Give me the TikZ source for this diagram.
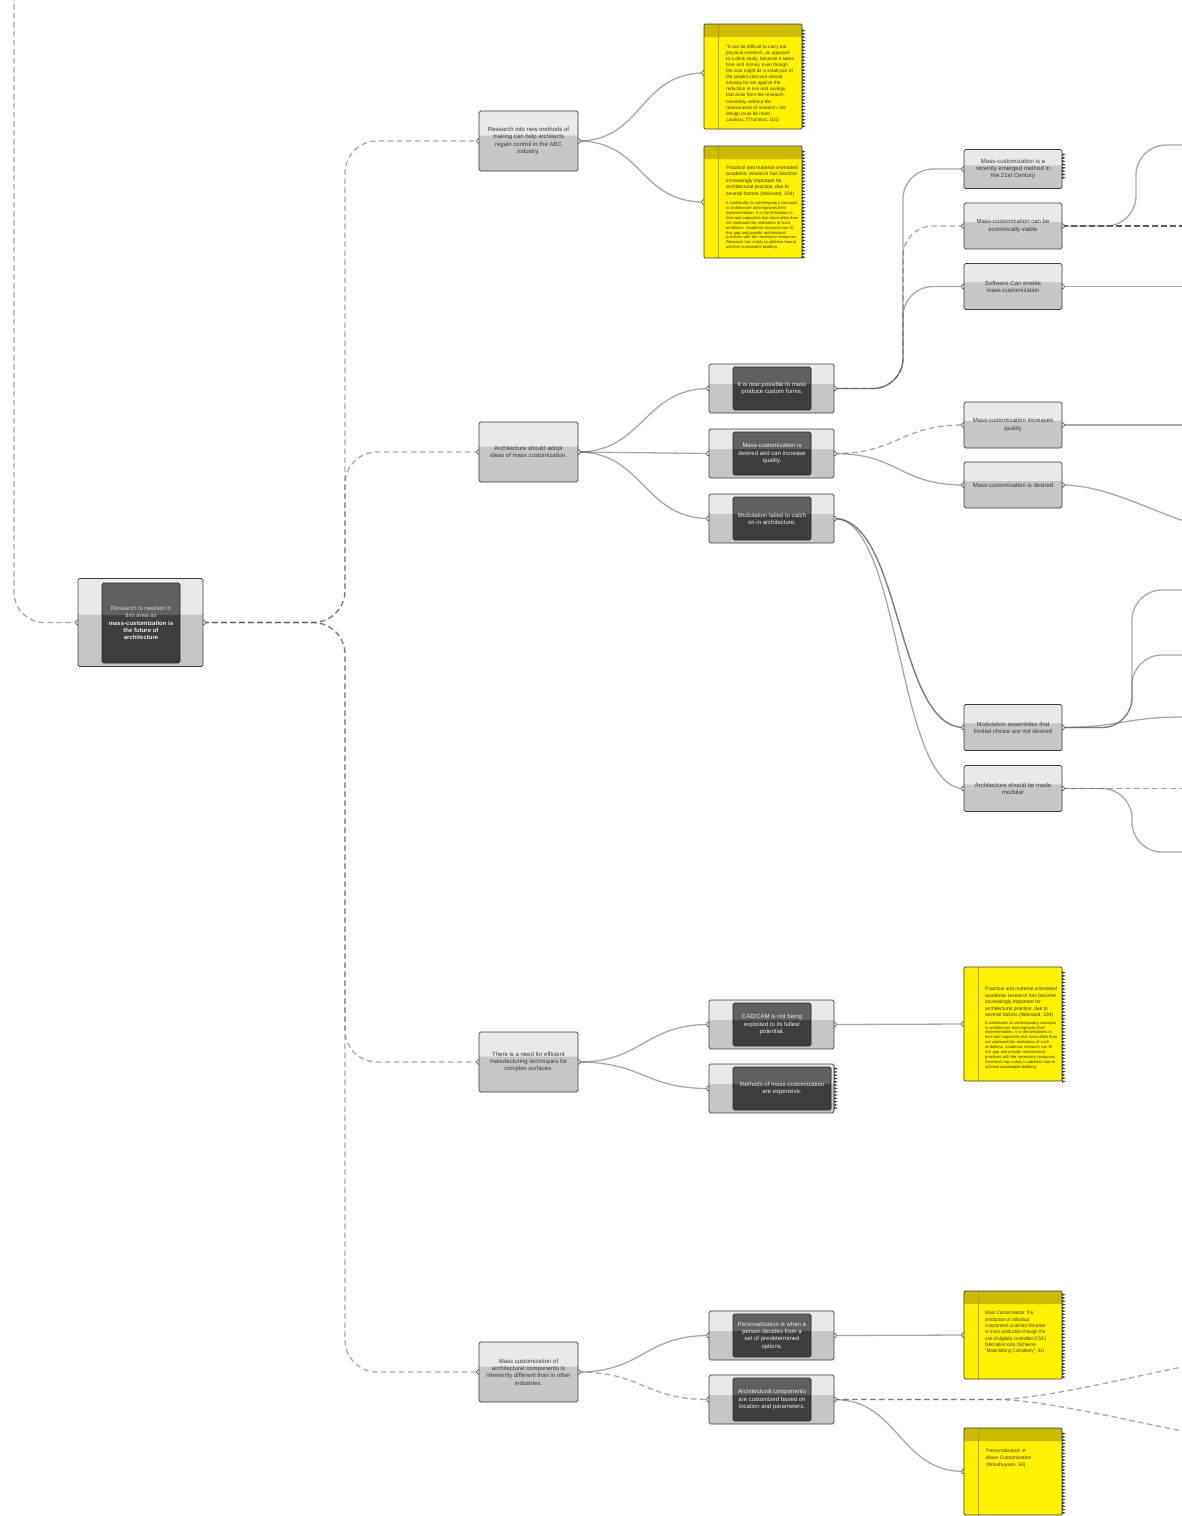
\documentclass[tikz,border=0pt]{standalone}
\usepackage{fontspec}
\setmainfont{Liberation Sans}
\newfontfamily\dejavu{DejaVu Sans}
\newfontfamily\narrowsans[FakeStretch=0.87]{Liberation Sans}
\usetikzlibrary{calc}
\pgfdeclarelayer{bg}
\pgfsetlayers{bg,main}

\definecolor{boxtop}{HTML}{E9E9E9}
\definecolor{boxbot}{HTML}{C6C6C6}
\definecolor{boxline}{HTML}{3C3C3C}
\definecolor{intop}{HTML}{606060}
\definecolor{inbot}{HTML}{3D3D3D}
\definecolor{inline}{HTML}{2A2A2A}
\definecolor{txt}{HTML}{3A3A3A}
\definecolor{rootlt}{HTML}{D2D2D2}
\definecolor{wirebase}{HTML}{555555}
\definecolor{darkwire}{HTML}{5E5E5E}
\definecolor{noteyel}{HTML}{FFF200}
\definecolor{notehdr}{HTML}{CCBB00}
\definecolor{notevl}{HTML}{B3A300}
\definecolor{notetxt}{HTML}{403C00}

\newcommand\lblfont{\fontsize{6.0}{7.3}\selectfont}
\newcommand\nfa{\fontsize{4.7}{6.1}\selectfont}
\newcommand\nfb{\fontsize{5.0}{6.5}\selectfont}
\newcommand\nfc{\fontsize{4.05}{4.9}\selectfont}
\newcommand\nfd{\narrowsans\fontsize{5.0}{6.3}\selectfont}
\newcommand\nfe{\fontsize{5.0}{7.0}\selectfont}
\newcommand\serr[3]{\foreach \k in {1,...,#3}{\fill[boxline] (#1,#2+3.3*\k) -- ++(3.6,1.3) -- ++(-3.6,1.3) -- cycle;}}
\newcommand\gport[1]{\draw[gport] (#1) circle[radius=2.4pt];}

\tikzset{
 gbox/.style={draw=boxline, line width=0.75pt, rounded corners=1.6pt, fill=boxbot, inner sep=0pt, outer sep=0pt,
   font=\lblfont, text=txt, align=center,
   path picture={\fill[boxtop] (path picture bounding box.north west) rectangle ($(path picture bounding box.north east)!0.41!(path picture bounding box.south east)$);}},
 lone/.style={gbox, minimum width=99pt, minimum height=60pt},
 ltwo/.style={gbox, minimum width=125pt, minimum height=49pt},
 lthree/.style={gbox, minimum width=98pt, minimum height=46pt},
 inbox/.style={draw=inline, line width=0.6pt, rounded corners=1.6pt, fill=inbot, inner sep=0pt, outer sep=0pt,
   minimum width=78pt, minimum height=43pt, font=\lblfont, text=white!93!black, align=center,
   path picture={\fill[intop] (path picture bounding box.north west) rectangle ($(path picture bounding box.north east)!0.40!(path picture bounding box.south east)$);}},
 ynote/.style={draw=boxline, line width=0.75pt, rounded corners=1.2pt, fill=noteyel, inner sep=0pt, outer sep=0pt, minimum width=98pt,
   path picture={\fill[notehdr] (path picture bounding box.north west) rectangle ([yshift=-13pt]path picture bounding box.north east);
     \draw[notevl, line width=0.8pt] ([xshift=14pt]path picture bounding box.north west) -- ([xshift=14pt]path picture bounding box.south west);}},
 ynoteplain/.style={draw=boxline, line width=0.75pt, rounded corners=1.2pt, fill=noteyel, inner sep=0pt, outer sep=0pt, minimum width=98pt,
   path picture={\draw[notevl, line width=0.8pt] ([xshift=14pt]path picture bounding box.north west) -- ([xshift=14pt]path picture bounding box.south west);}},
 ntext/.style={anchor=north west, inner sep=0pt, align=left, text=notetxt},
 gwire/.style={draw=wirebase, draw opacity=0.5, line width=1.3pt},
 gdwire/.style={gwire, dash pattern=on 5.5pt off 3.5pt},
 gdkwire/.style={draw=darkwire, line width=1.3pt, dash pattern=on 5.5pt off 3.5pt},
 gport/.style={draw=boxline, fill=white, line width=0.6pt},
}

\begin{document}
\begin{tikzpicture}[x=1pt,y=-1pt]
\useasboundingbox (0,0) rectangle (1182,1516);

% ---------- root ----------
\node[gbox, minimum width=125pt, minimum height=88pt] (root) at (140.5,622.5) {};
\node[inbox, minimum height=80pt] (roott) at (141,623) {\textcolor{rootlt}{Research is needed in}\\\textcolor{rootlt}{this area as}\\\textbf{mass-customization is}\\\textbf{the future of}\\\textbf{architecture}};

% ---------- level 1 ----------
\node[lone] (research) at (528.5,141) {Research into new methods of\\making can help architects\\regain control in the AEC\\industry.};
\node[lone] (adopt) at (528.5,452) {Architecture should adopt\\ideas of mass customization.};
\node[lone] (need) at (528.5,1062) {There is a need for efficient\\manufacturing techniques for\\complex surfaces.};
\node[lone] (inherent) at (528.5,1372) {Mass customization of\\architectural components is\\inherently different than in other\\industries.};

% ---------- level 2 ----------
\node[ltwo] (possible) at (771.5,388.5) {};
\node[inbox] (possible-t) at (772,388.5) {It is now possible to mass\\produce custom forms.};
\node[ltwo] (desired) at (771.5,453.5) {};
\node[inbox] (desired-t) at (772,453.5) {Mass-customization is\\desired and can increase\\quality.};
\node[ltwo] (modfail) at (771.5,518.5) {};
\node[inbox] (modfail-t) at (772,518.5) {Modulation failed to catch\\on in architecture.};
\node[ltwo] (cadcam) at (771.5,1024.5) {};
\node[inbox] (cadcam-t) at (772,1024.5) {CAD/CAM is not being\\exploited to its fullest\\potential.};
\node[ltwo] (methods) at (771.5,1088.5) {};
\node[inbox, minimum width=98pt] (methods-t) at (782,1088.5) {Methods of mass-customization\\are expensive.};
\node[ltwo] (personal) at (771.5,1335.5) {};
\node[inbox] (personal-t) at (772,1335.5) {Personalization is when a\\person decides from a\\set of predetermined\\options.};
\node[ltwo] (archcomp) at (771.5,1399.5) {};
\node[inbox] (archcomp-t) at (772,1399.5) {Architectural components\\are customized based on\\location and parameters.};

% ---------- level 3 ----------
\node[lthree, minimum height=39pt] (recent) at (1013,169) {Mass-customization is a\\recently emerged method in\\the 21st Century};
\node[lthree] (econ) at (1013,226) {Mass-customization can be\\econmically viable};
\node[lthree] (software) at (1013,286.5) {Software Can enable\\mass-customization};
\node[lthree] (quality) at (1013,425) {Mass-customization increases\\quality};
\node[lthree] (isdesired) at (1013,485) {Mass-customization is desired};
\node[lthree] (modass) at (1013,727.5) {Modulation assemblies that\\limited choice are not desired};
\node[lthree] (archmod) at (1013,788.5) {Architecture should be made\\modular};

% ---------- notes ----------
\node[ynote, minimum height=105pt] (note1) at (753,76.5) {};
\coordinate (note1in) at ($(note1.west)+(0,-3.5)$);
\node[ntext, font=\nfa] (note1t) at (726,44.5) {"It can be difficult to carry out\\physical research, as opposed\\to a desk study, because it takes\\time and money, even though\\the cost might be a small part of\\the project cost and should\\anyway be set against the\\reduction in risk and savings\\that arise from the research.\\Inevitably, without the\\reassurance of research, the\\design must be more\\cautious."(Thornton, 101)};

\node[ynote, minimum height=112pt] (note2) at (753,202) {};
\node[ntext, font=\nfb] (note2a) at (726,165.3) {Practical and material orientated\\academic research has become\\increasingly important for\\architectural practice, due to\\several factors.(Weinand, 104)};
\node[ntext, font=\nfc] (note2b) at (726,201.5) {It contributes to contemporary concepts\\in architecture and improves their\\implementation. It is the limitations in\\time and capacities that more often than\\not confound the realisation of such\\ambitions. Academic research can fill\\this gap and provide architectural\\practices with the necessary resources.\\Research has a duty to address how to\\achieve sustainable building.};

\node[ynoteplain, minimum height=114pt] (note3) at (1013,1024) {};
\node[ntext, font=\nfb] (note3a) at (985,987) {Practical and material orientated\\academic research has become\\increasingly important for\\architectural practice, due to\\several factors.(Weinand, 104)};
\node[ntext, font=\nfc] (note3b) at (985,1021) {It contributes to contemporary concepts\\in architecture and improves their\\implementation. It is the limitations in\\time and capacities that more often than\\not confound the realisation of such\\ambitions. Academic research can fill\\this gap and provide architectural\\practices with the necessary resources.\\Research has a duty to address how to\\achieve sustainable building.};

\node[ynote, minimum height=88pt] (note4) at (1013,1335) {};
\node[ntext, font=\nfd] (note4t) at (985,1311) {Mass Customisation: the\\production of individual\\components at almost the price\\of mass production through the\\use of digitally controlled (CNC)\\fabrication tools.(Scheurer,\\"Materialising Complexity", 91)};

\node[ynote, minimum height=87pt] (note5) at (1013,1471.5) {};
\node[ntext, font=\nfe] (note5t) at (986,1449) {Personalization {\dejavu ≠}\\Mass-Customization\\(Wouthuysen, 50)};

% ---------- serrated output edges ----------
\serr{802}{26}{30}
\serr{802}{147}{33}
\serr{1062}{968}{34}
\serr{1062}{1290}{26}
\serr{1062}{1429}{25}
\serr{1062}{150}{8}
\serr{834}{1064}{13}

% ---------- wires ----------
\begin{pgfonlayer}{bg}
\fill[white] (0,0) rectangle (1182,1516);
\coordinate (rootsrc) at (14,-5);
\coordinate (vroot) at (345,0);
\coordinate (vposs) at (903,0);
\coordinate (vecon) at (1136,0);
\coordinate (vmod) at (1132,0);
\coordinate (o1) at (1182,145);
\coordinate (o5) at (1240,532);
\coordinate (o6) at (1182,590);
\coordinate (o7) at (1182,655);
\coordinate (o8) at (1182,717);
\coordinate (o11) at (1182,852);
\coordinate (split) at (995,1399.5);
\coordinate (o9) at (1182,1367);
\coordinate (o10) at (1182,1431);

\draw[gdwire, rounded corners=30pt] (rootsrc) -- (rootsrc |- root.west) -- (root.west);
\foreach \t in {research,adopt,need,inherent}{
  \draw[gdwire, rounded corners=32pt] (root.east) -- (root.east -| vroot) -- (\t.west -| vroot) -- (\t.west);
}
\draw[gwire] (research.east) .. controls +(65,0) and +(-65,0) .. (note1in);
\draw[gwire] (research.east) .. controls +(65,0) and +(-65,0) .. (note2.west);
\draw[gwire] (adopt.east) .. controls +(65,0) and +(-65,0) .. (possible.west);
\draw[gwire] (adopt.east) .. controls +(65,0) and +(-65,0) .. (desired.west);
\draw[gwire] (adopt.east) .. controls +(65,0) and +(-65,0) .. (modfail.west);

\draw[gwire, rounded corners=30pt] (possible.east) -- (possible.east -| vposs) -- (recent.west -| vposs) -- (recent.west);
\draw[gdwire, rounded corners=30pt] (possible.east) -- (possible.east -| vposs) -- (econ.west -| vposs) -- (econ.west);
\draw[gwire, rounded corners=30pt] (possible.east) -- (possible.east -| vposs) -- (software.west -| vposs) -- (software.west);

\draw[gdwire] (desired.east) .. controls +(65,0) and +(-65,0) .. (quality.west);
\draw[gwire] (desired.east) .. controls +(65,0) and +(-65,0) .. (isdesired.west);

\draw[gwire] (modfail.east) .. controls +(68,0) and +(-68,0) .. (modass.west);
\draw[gwire] (modfail.east) .. controls +(68,0) and +(-68,0) .. (modass.west);
\draw[gwire] (modfail.east) .. controls +(68,0) and +(-68,0) .. (archmod.west);

\draw[gwire, rounded corners=30pt] (econ.east) -- (econ.east -| vecon) -- (o1 -| vecon) -- (o1);
\draw[gdkwire] (econ.east) -- (econ.east -| o1);
\draw[gwire] (software.east) -- (software.east -| o1);
\draw[gwire] (quality.east) -- (quality.east -| o1);
\draw[gwire] (isdesired.east) .. controls +(60,0) and +(-60,0) .. (o5);
\draw[gwire, rounded corners=30pt] (modass.east) -- (modass.east -| vmod) -- (o6 -| vmod) -- (o6);
\draw[gwire, rounded corners=30pt] (modass.east) -- (modass.east -| vmod) -- (o7 -| vmod) -- (o7);
\draw[gwire] (modass.east) .. controls +(55,0) and +(-55,0) .. (o8);
\draw[gdwire] (archmod.east) -- (archmod.east -| o1);
\draw[gwire, rounded corners=30pt] (archmod.east) -- (archmod.east -| vmod) -- (o11 -| vmod) -- (o11);

\draw[gwire] (need.east) .. controls +(65,0) and +(-65,0) .. (cadcam.west);
\draw[gwire] (need.east) .. controls +(65,0) and +(-65,0) .. (methods.west);
\draw[gwire] (cadcam.east) -- (note3.west);

\draw[gwire] (inherent.east) .. controls +(65,0) and +(-65,0) .. (personal.west);
\draw[gdwire] (inherent.east) .. controls +(65,0) and +(-65,0) .. (archcomp.west);
\draw[gwire] (personal.east) -- (note4.west);
\draw[gwire] (archcomp.east) .. controls +(65,0) and +(-65,0) .. (note5.west);
\draw[gdwire] (archcomp.east) -- (split) .. controls +(45,0) and +(-60,12) .. (o9);
\draw[gdwire] (archcomp.east) -- (split) .. controls +(45,0) and +(-60,-12) .. (o10);

% ports
\foreach \n in {root,research,adopt,need,inherent,possible,desired,modfail,cadcam,personal,archcomp,econ,software,quality,isdesired,modass,archmod}{
  \gport{\n.west}\gport{\n.east}
}
\gport{methods.west}\gport{recent.west}
\gport{note1in}\gport{note2.west}\gport{note3.west}\gport{note4.west}\gport{note5.west}
\end{pgfonlayer}
\end{tikzpicture}
\end{document}
